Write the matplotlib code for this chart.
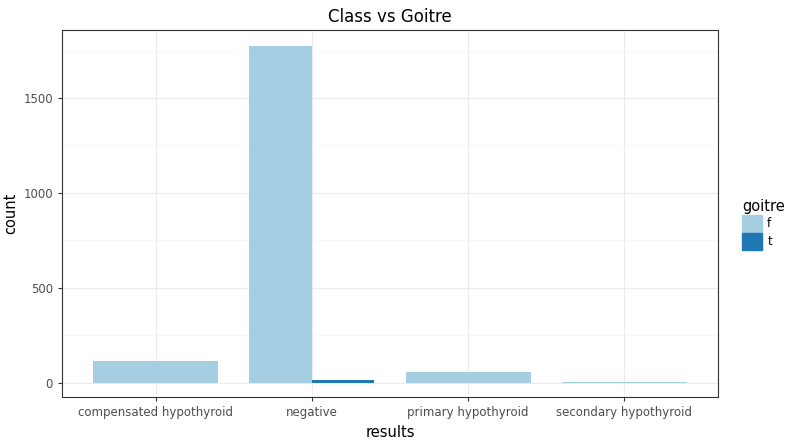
import matplotlib.pyplot as plt
import numpy as np
from matplotlib.patches import Patch

categories = ['compensated hypothyroid', 'negative', 'primary hypothyroid', 'secondary hypothyroid']
f_counts = [113, 1775, 55, 7]
t_counts = [0, 17, 0, 0]
colors = {'f': '#A6CEE3', 't': '#1F78B4'}

fig = plt.figure(figsize=(7.93, 4.43), dpi=100)
ax = fig.add_axes([62/793, 46/443, 656/793, 367/443])

x = np.arange(len(categories))
w = 0.8
for i in range(len(categories)):
    if t_counts[i] > 0:
        ax.bar(x[i] - w/4, f_counts[i], w/2, color=colors['f'], zorder=3)
        ax.bar(x[i] + w/4, t_counts[i], w/2, color=colors['t'], zorder=3)
    else:
        ax.bar(x[i], f_counts[i], w, color=colors['f'], zorder=3)

ax.set_xlim(-0.6, 3.6)
ax.set_ylim(-74, 1858)
ax.set_yticks([0, 500, 1000, 1500])
ax.set_yticks([250, 750, 1250, 1750], minor=True)
ax.set_xticks(x)
ax.set_xticklabels(categories)
ax.grid(which='major', color='#EBEBEB', lw=0.8, zorder=0)
ax.grid(which='minor', axis='y', color='#F4F4F4', lw=0.5, zorder=0)
ax.tick_params(which='major', length=3, color='#333333', labelsize=8.5, labelcolor='#4D4D4D')
ax.tick_params(which='minor', length=0)
for s in ax.spines.values():
    s.set_color('#333333')
    s.set_linewidth(0.8)
ax.set_xlabel('results', fontsize=10.5)
ax.set_ylabel('count', fontsize=10.5)
ax.set_title('Class vs Goitre', fontsize=12)

handles = [Patch(color=colors['f'], label='f'), Patch(color=colors['t'], label='t')]
leg = ax.legend(handles=handles, title='goitre', loc='center left', bbox_to_anchor=(1.03, 0.47),
                frameon=False, fontsize=8.5, title_fontsize=10.5, handlelength=1.7, handleheight=1.9,
                handletextpad=0.4, labelspacing=0.05, borderaxespad=0)
leg._legend_box.align = 'left'

fig.savefig('out.png', dpi=100)
